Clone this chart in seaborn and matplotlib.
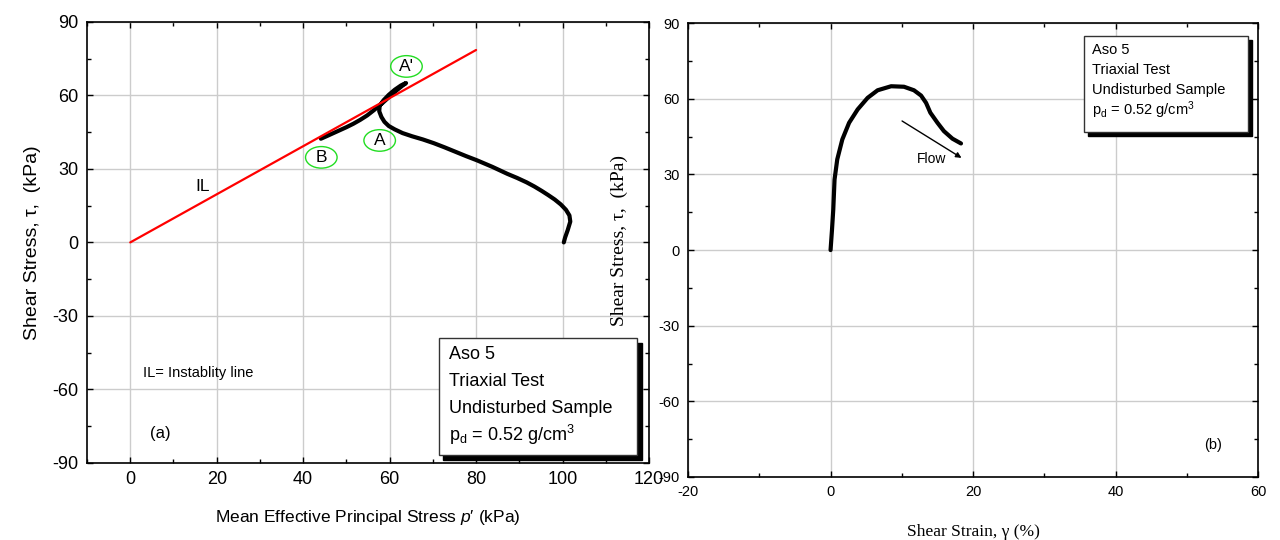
import numpy as np
import pandas as pd
import matplotlib
matplotlib.use("Agg")
import matplotlib.pyplot as plt
from matplotlib.patches import Ellipse, Rectangle
import seaborn as sns

# ---- data ----
p_prime = [100.3, 100.6, 101.2, 101.8, 101.6, 100.8, 99.6, 98.2, 96.7, 95.2, 93.5,
           91.7, 89.5, 87.2, 83.8, 80.2, 77.7, 75.2, 72.7, 70.2, 67.7, 65.2, 63.0,
           61.2, 59.8, 58.8, 58.1, 57.6, 57.7, 58.6, 59.8, 61.2, 62.6, 63.5, 63.8,
           63.0, 61.6, 60.0, 58.3, 56.4, 54.8, 53.2, 51.6, 50.0, 48.5, 47.0, 45.5, 44.1]
tau_a = [0.0, 2.0, 5.0, 8.5, 11.0, 13.3, 15.5, 17.5, 19.3, 21.0, 22.8,
         24.5, 26.3, 28.0, 30.8, 33.5, 35.2, 37.0, 38.8, 40.5, 42.0, 43.3, 44.6,
         46.1, 47.5, 49.2, 51.2, 53.5, 55.8, 58.0, 60.2, 62.3, 64.0, 64.8, 65.0,
         64.0, 62.0, 59.5, 56.8, 54.0, 51.8, 50.0, 48.4, 47.0, 45.8, 44.6, 43.4, 42.3]
il_p = [0, 80]
il_tau = [0, 78.5]

gamma = [0.0, 0.2, 0.38, 0.56, 0.94, 1.65, 2.6, 3.8, 5.2, 6.6, 8.5, 10.3, 11.7,
         12.7, 13.4, 14.0, 15.0, 15.9, 17.1, 18.3]
tau_b = [0.0, 8.0, 16.1, 28.0, 36.0, 43.9, 50.5, 55.8, 60.4, 63.4, 65.0, 64.8, 63.4,
         61.3, 58.4, 54.5, 50.5, 47.2, 44.2, 42.3]

x_ticks_a = [0, 20, 40, 60, 80, 100, 120]
x_ticks_b = [-20, 0, 20, 40, 60]
y_ticks = [-90, -60, -30, 0, 30, 60, 90]

point_labels = ["A'", "A", "B"]
point_x = [63.9, 57.7, 44.2]
point_y = [71.8, 41.6, 34.7]

box_lines = ["Aso 5", "Triaxial Test", "Undisturbed Sample",
             r"p$_\mathrm{d}$ = 0.52 g/cm$^\mathrm{3}$"]

# ---- style ----
sns.set_theme(style="white")
plt.rcParams['font.family'] = ['Liberation Sans', 'DejaVu Sans']
plt.rcParams['mathtext.fontset'] = 'custom'
plt.rcParams['mathtext.rm'] = 'Liberation Sans'
plt.rcParams['mathtext.it'] = 'Liberation Sans:italic'
plt.rcParams['mathtext.bf'] = 'Liberation Sans:bold'
plt.rcParams['axes.unicode_minus'] = False
plt.rcParams['text.color'] = 'black'
plt.rcParams['axes.labelcolor'] = 'black'
plt.rcParams['xtick.color'] = 'black'
plt.rcParams['ytick.color'] = 'black'

fig = plt.figure(figsize=(12.8, 5.4), dpi=100)
ax1 = fig.add_axes([0.068, 0.1426, 0.439, 0.817])
ax2 = fig.add_axes([0.5375, 0.1167, 0.4455, 0.8403])

grid_kw = dict(color="#cccccc", lw=1.0)

def style_axes(ax, xlim, xticks, xminor, fs):
    ax.set_xlim(*xlim)
    ax.set_ylim(-90, 90)
    ax.set_xticks(xticks)
    ax.set_yticks(y_ticks)
    ax.set_xticks(xminor, minor=True)
    ax.set_yticks(np.arange(-75, 90, 30), minor=True)
    ax.grid(True, which='major', **grid_kw)
    ax.set_axisbelow(True)
    ax.tick_params(which='both', direction='in', top=True, right=True,
                   bottom=True, left=True, colors='black', labelsize=fs, pad=6)
    ax.tick_params(which='major', length=4, width=1)
    ax.tick_params(which='minor', length=3, width=1)
    for s in ax.spines.values():
        s.set_color('black')
        s.set_linewidth(1.2)
        s.set_visible(True)

line_kw = dict(sort=False, estimator=None, solid_capstyle='round', solid_joinstyle='round')

# ---- panel (a) ----
style_axes(ax1, (-10, 120), x_ticks_a, np.arange(-10, 121, 10), 13)
sns.lineplot(x=p_prime, y=tau_a, ax=ax1, color='black', lw=3, zorder=3, **line_kw)
sns.lineplot(x=il_p, y=il_tau, ax=ax1, color='red', lw=1.6, zorder=4, **line_kw)
ax1.set_xlabel("Mean Effective Principal Stress $\\mathit{p}$\u2032 (kPa)", fontsize=12.5, labelpad=14)
ax1.set_ylabel("Shear Stress, τ,  (kPa)", fontsize=14, labelpad=8)

for lab, px, py in zip(point_labels, point_x, point_y):
    ax1.add_patch(Ellipse((px, py), 7.3, 8.8, fill=False, ec='#22dd22', lw=1.0, zorder=5))
    ax1.text(px, py, lab, ha='center', va='center', fontsize=12.5, zorder=6)

ax1.text(16.7, 23, "IL", fontsize=12.5, ha='center', va='center')
ax1.text(3, -53.4, "IL= Instablity line", fontsize=10.5, ha='left', va='center')
ax1.text(4.5, -78, "(a)", fontsize=12, ha='left', va='center')

# text box (a) with shadow
bx0, by0, bw, bh = 71.4, -86.6, 45.9, 47.5
ax1.add_patch(Rectangle((bx0 + 1.0, by0 - 2.0), bw, bh, fc='black', ec='black', zorder=6))
ax1.add_patch(Rectangle((bx0, by0), bw, bh, fc='white', ec='#333333', lw=1.0, zorder=7))
for i, t in enumerate(box_lines):
    ax1.text(bx0 + 2.3, by0 + bh - 6.5 - i * 11.0, t, fontsize=13, ha='left', va='center', zorder=8)

# ---- panel (b) ----
style_axes(ax2, (-20, 60), x_ticks_b, np.arange(-20, 61, 10), 10.5)
sns.lineplot(x=gamma, y=tau_b, ax=ax2, color='black', lw=3, **line_kw)
ax2.set_xlabel("Shear Strain, γ (%)", fontsize=12.5, family=['Liberation Serif', 'DejaVu Serif'], labelpad=18)
ax2.set_ylabel("Shear Stress, τ,  (kPa)", fontsize=14, family=['Liberation Serif', 'DejaVu Serif'])
ax2.yaxis.set_label_coords(-0.105, 0.522)

ax2.annotate("", xy=(18.7, 36), xytext=(9.7, 51.8),
             arrowprops=dict(arrowstyle='-|>', color='black', lw=1.0, mutation_scale=8))
ax2.text(14.1, 36, "Flow", fontsize=10, ha='center', va='center')
ax2.text(53.7, -77.5, "(b)", fontsize=10.5, ha='center', va='center')

bx0, by0, bw, bh = 35.5, 47.0, 23.0, 37.9
ax2.add_patch(Rectangle((bx0 + 0.6, by0 - 1.6), bw, bh, fc='black', ec='black', zorder=6))
ax2.add_patch(Rectangle((bx0, by0), bw, bh, fc='white', ec='#333333', lw=1.0, zorder=7))
for i, t in enumerate(box_lines):
    ax2.text(bx0 + 1.2, by0 + bh - 5.5 - i * 8.0, t, fontsize=10.5, ha='left', va='center', zorder=8)

for ax in (ax1, ax2):
    leg = ax.get_legend()
    if leg:
        leg.remove()

fig.savefig("out.png", dpi=100)
